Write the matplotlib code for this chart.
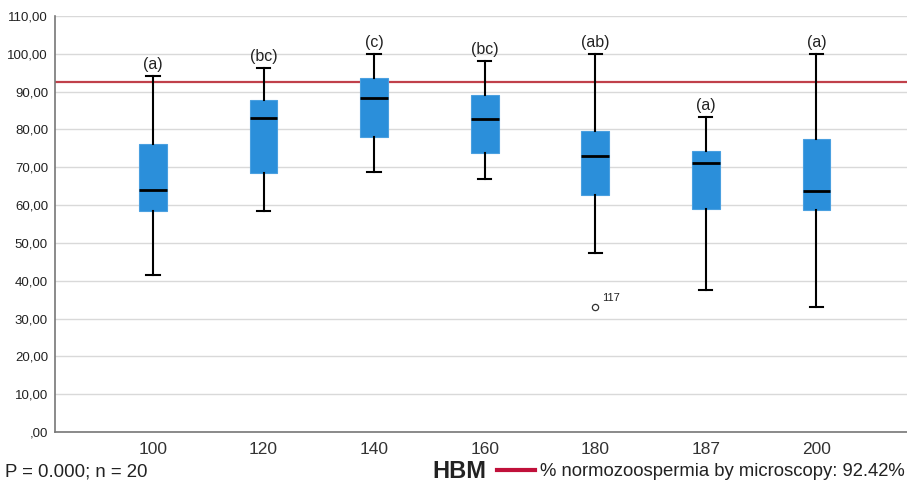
import numpy as np
import matplotlib.pyplot as plt
from matplotlib.ticker import FuncFormatter

plt.rcParams['font.family'] = ['Liberation Sans', 'DejaVu Sans']

groups = ['100', '120', '140', '160', '180', '187', '200']
whislo = [41.6, 58.4, 68.8, 67.0, 47.3, 37.5, 33.1]
q1 = [58.4, 68.6, 77.9, 73.8, 62.6, 58.9, 58.6]
med = [64.1, 82.9, 88.3, 82.7, 73.0, 71.0, 63.6]
q3 = [76.1, 87.7, 93.6, 89.2, 79.6, 74.4, 77.4]
whishi = [94.2, 96.3, 100.0, 98.0, 100.0, 83.2, 100.0]
fliers = [[], [], [], [], [33.1], [], []]
flier_ids = [[], [], [], [], ['117'], [], []]
letters = ['(a)', '(bc)', '(c)', '(bc)', '(ab)', '(a)', '(a)']
ref_value = 92.42

stats = []
for i, g in enumerate(groups):
    stats.append(dict(label=g, whislo=whislo[i], q1=q1[i], med=med[i],
                      q3=q3[i], whishi=whishi[i], fliers=fliers[i]))

fig = plt.figure(figsize=(9.07, 4.83), dpi=100)
ax = fig.add_axes([0.0606, 0.1056, 0.9394, 0.8613])

pos = np.arange(len(groups))
blue = '#2b8fda'
ax.bxp(stats, positions=pos, widths=0.25, patch_artist=True,
       boxprops=dict(facecolor=blue, edgecolor='#4aa0e0', linewidth=0.8),
       medianprops=dict(color='black', linewidth=2),
       whiskerprops=dict(color='black', linewidth=1.5),
       capprops=dict(color='black', linewidth=1.5),
       capwidths=0.12,
       flierprops=dict(marker='o', markersize=4.5, markerfacecolor='white',
                       markeredgecolor='#333333', markeredgewidth=0.9),
       zorder=3)

for i, ids in enumerate(flier_ids):
    for v, lab in zip(fliers[i], ids):
        ax.annotate(lab, (pos[i], v), xytext=(5, 4), textcoords='offset points',
                    fontsize=8, color='#222222')

for i, lab in enumerate(letters):
    ax.annotate(lab, (pos[i], whishi[i]), xytext=(0, 3), textcoords='offset points',
                ha='center', va='bottom', fontsize=11.5, color='#222222')

ax.axhline(ref_value, color='#c0404a', linewidth=1.6, zorder=2)

ax.set_xlim(-0.887, 6.82)
ax.set_ylim(0, 110)
ax.set_yticks(np.arange(0, 111, 10))
ax.yaxis.set_major_formatter(FuncFormatter(
    lambda v, p: ',00' if v == 0 else '%d,00' % v))
ax.set_xticks(pos)
ax.set_xticklabels(groups)
ax.grid(axis='y', color='#d9d9d9', linewidth=1, zorder=0)
ax.set_axisbelow(True)
for s in ['top', 'right']:
    ax.spines[s].set_visible(False)
for s in ['left', 'bottom']:
    ax.spines[s].set_color('#777777')
    ax.spines[s].set_linewidth(1.2)
ax.tick_params(axis='y', length=0, labelsize=9.5, pad=5, labelcolor='#222222')
ax.tick_params(axis='x', length=0, labelsize=12.5, pad=7, labelcolor='#333333')

fig.text(5 / 907, 1 - 472 / 483, 'P = 0.000; n = 20', fontsize=13.4,
         va='center', ha='left', color='#222222')
fig.text(432 / 907, 1 - 471 / 483, 'HBM', fontsize=17, fontweight='bold',
         va='center', ha='left', color='#222222')
fig.add_artist(plt.Line2D([497 / 907, 535 / 907], [1 - 470 / 483, 1 - 470 / 483],
                          color='#c0103a', linewidth=3))
fig.text(540 / 907, 1 - 472 / 483, '% normozoospermia by microscopy: 92.42%',
         fontsize=13.3, va='center', ha='left', color='#222222')

fig.savefig('out.png', dpi=100)
